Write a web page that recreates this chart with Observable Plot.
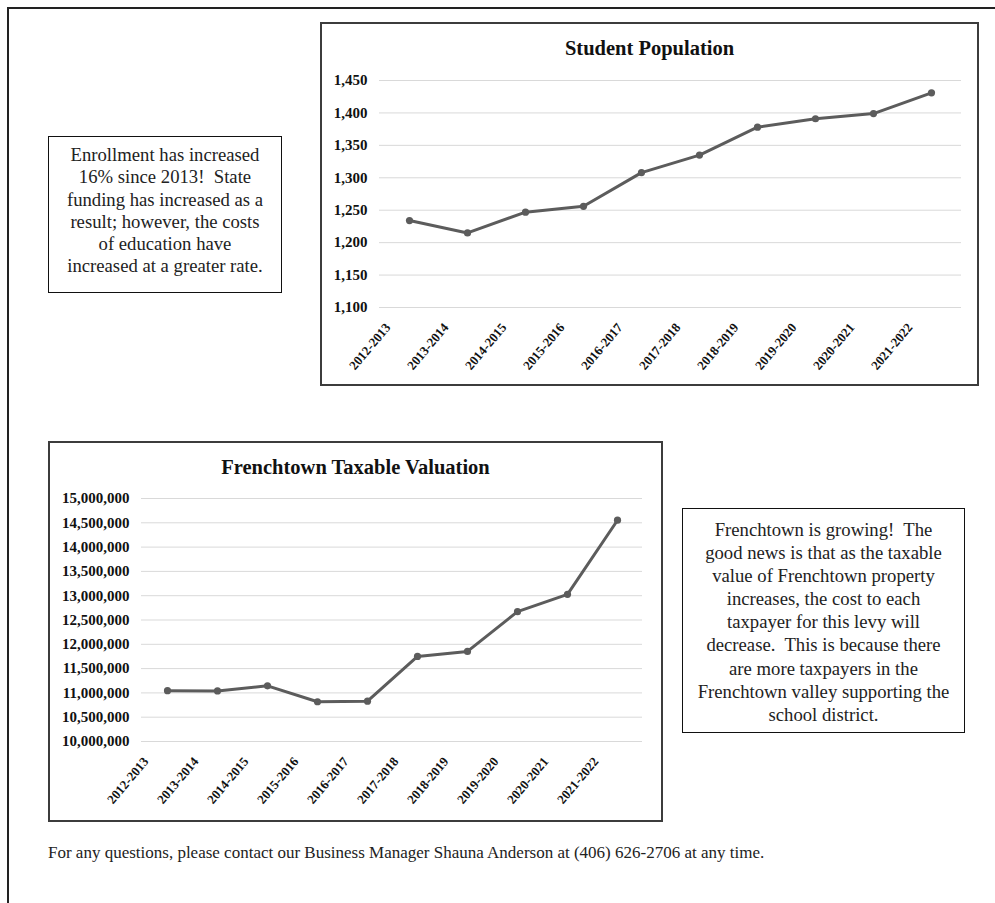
<!DOCTYPE html>
<html>
<head>
<meta charset="utf-8">
<script src="https://cdn.jsdelivr.net/npm/d3@7"></script>
<script src="https://cdn.jsdelivr.net/npm/@observablehq/plot@0.6"></script>
<style>
  html, body { margin: 0; padding: 0; background: #fff; }
  body { width: 995px; height: 903px; position: relative; overflow: hidden; font-family: "Liberation Serif", "Times New Roman", serif; color: #111; }
  .abs { position: absolute; box-sizing: border-box; }
  .chartbox { border: 2px solid #3c3c3c; background: #fff; }
  .charttitle { position: absolute; left: 0; width: 100%; text-align: center; font-weight: bold; font-size: 20.5px; line-height: 22px; color: #111; }
  .chartbox svg { position: absolute; left: 0; top: 0; }
  .note { border: 1.5px solid #111; text-align: center; font-size: 18.7px; color: #222; white-space: nowrap; }
</style>
</head>
<body>
<div class="abs" style="left:7px; top:7px; width:988px; height:0; border-top:2px solid #222;"></div>
<div class="abs" style="left:7px; top:7px; width:0; height:896px; border-left:2px solid #222;"></div>

<div class="abs note" style="left:48px; top:136px; width:234px; height:157px; padding-top:7px; line-height:22.3px;">
Enrollment has increased<br>16% since 2013!&nbsp; State<br>funding has increased as a<br>result; however, the costs<br>of education have<br>increased at a greater rate.
</div>

<div id="top" class="abs chartbox" style="left:320px; top:22px; width:659px; height:364px;">
  <div class="charttitle" style="top:13px;">Student Population</div>
</div>

<div id="bottom" class="abs chartbox" style="left:48px; top:441px; width:615px; height:381px;">
  <div class="charttitle" style="top:13px;">Frenchtown Taxable Valuation</div>
</div>

<div class="abs note" style="left:682px; top:508px; width:283px; height:225px; padding-top:9px; line-height:23.1px;">
Frenchtown is growing!&nbsp; The<br>good news is that as the taxable<br>value of Frenchtown property<br>increases, the cost to each<br>taxpayer for this levy will<br>decrease.&nbsp; This is because there<br>are more taxpayers in the<br>Frenchtown valley supporting the<br>school district.
</div>

<div class="abs" style="left:48px; top:843px; font-size:17px; line-height:20px; white-space:nowrap; color:#222;">For any questions, please contact our Business Manager Shauna Anderson at (406) 626-2706 at any time.</div>

<script>
// ---- data ----
const years = ["2012-2013", "2013-2014", "2014-2015", "2015-2016", "2016-2017", "2017-2018", "2018-2019", "2019-2020", "2020-2021", "2021-2022"];
const students = [1234, 1215, 1247, 1256, 1308, 1335, 1378, 1391, 1399, 1431];
const studentTicks = [1100, 1150, 1200, 1250, 1300, 1350, 1400, 1450];
const valuation = [11045000, 11040000, 11145000, 10818000, 10830000, 11751000, 11854000, 12672000, 13028000, 14553000];
const valuationTicks = [10000000, 10500000, 11000000, 11500000, 12000000, 12500000, 13000000, 13500000, 14000000, 14500000, 15000000];

const studentData = years.map((y, i) => ({year: y, value: students[i]}));
const valuationData = years.map((y, i) => ({year: y, value: valuation[i]}));

const lineColor = "#5c5c5c";
const gridColor = "#d9d9d9";
const fmt = d3.format(",");

function makeChart({data, ticks, domain, width, height, marginLeft, marginRight, marginTop, marginBottom}) {
  return Plot.plot({
    width, height, marginLeft, marginRight, marginTop, marginBottom,
    style: {fontFamily: "'Liberation Serif', 'Times New Roman', serif", background: "transparent", color: "#111"},
    x: {type: "point", domain: years, padding: 0.5, label: null},
    y: {domain, label: null},
    marks: [
      Plot.gridY(ticks, {stroke: gridColor, strokeOpacity: 1, strokeWidth: 1}),
      Plot.axisY(ticks, {tickSize: 0, tickPadding: 12, fontSize: 15, fontWeight: "bold", tickFormat: fmt, label: null}),
      Plot.axisX({tickSize: 0, tickPadding: 0, tickRotate: -50, fontSize: 13, fontWeight: "bold", label: null, dx: -21.5, dy: 17.5}),
      Plot.line(data, {x: "year", y: "value", stroke: lineColor, strokeWidth: 3}),
      Plot.dot(data, {x: "year", y: "value", fill: lineColor, r: 3.6})
    ]
  });
}

document.getElementById("top").appendChild(makeChart({
  data: studentData, ticks: studentTicks, domain: [1100, 1450],
  width: 655, height: 360, marginLeft: 57, marginRight: 16, marginTop: 56, marginBottom: 77
}));

document.getElementById("bottom").appendChild(makeChart({
  data: valuationData, ticks: valuationTicks, domain: [10000000, 15000000],
  width: 611, height: 377, marginLeft: 91, marginRight: 19, marginTop: 55, marginBottom: 79
}));
</script>
</body>
</html>
